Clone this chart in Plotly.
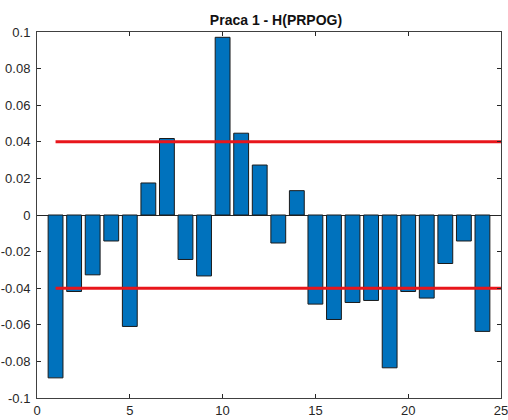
import plotly.graph_objects as go

x_vals = list(range(1, 25))
y_vals = [-0.089, -0.0418, -0.0327, -0.0142, -0.0609, 0.0175, 0.0418, -0.0243, -0.0333,
          0.0971, 0.0447, 0.0273, -0.0153, 0.0133, -0.0487, -0.0571, -0.0478, -0.0467,
          -0.0835, -0.0418, -0.0454, -0.0265, -0.0142, -0.0636]
limit_x = [1, 25]
upper_limit = [0.04, 0.04]
lower_limit = [-0.04, -0.04]
y_ticks = [-0.1, -0.08, -0.06, -0.04, -0.02, 0, 0.02, 0.04, 0.06, 0.08, 0.1]
y_tick_text = ["-0.1", "-0.08", "-0.06", "-0.04", "-0.02", "0", "0.02", "0.04", "0.06", "0.08", "0.1"]
x_ticks = [0, 5, 10, 15, 20, 25]
title = "Praca 1 - H(PRPOG)"

W, H = 508, 420
fig = go.Figure()
fig.add_trace(go.Bar(x=x_vals, y=y_vals, width=0.8,
                     marker=dict(color="#0072BD", line=dict(color="#1a1a1a", width=1))))
fig.add_trace(go.Scatter(x=limit_x, y=upper_limit, mode="lines",
                         line=dict(color="#e8161b", width=3)))
fig.add_trace(go.Scatter(x=limit_x, y=lower_limit, mode="lines",
                         line=dict(color="#e8161b", width=3)))

fig.update_layout(
    width=W, height=H,
    margin=dict(l=37, r=7, t=32, b=22),
    paper_bgcolor="white", plot_bgcolor="white",
    showlegend=False,
    title=dict(text="<b>" + title + "</b>", x=276 / W, xanchor="center",
               y=1 - 20 / H, yanchor="middle",
               font=dict(family="Liberation Sans, Arial", size=14, color="#111")),
    font=dict(family="Liberation Sans, Arial", size=13, color="#262626"),
)
fig.update_xaxes(range=[0, 25], tickvals=x_ticks, ticks="inside", ticklen=4,
                 tickcolor="#262626", showline=True, linecolor="#404040", linewidth=1,
                 mirror="ticks", showgrid=False, zeroline=False, automargin=False,
                 ticklabeloverflow="allow", fixedrange=True)
fig.update_yaxes(range=[-0.1, 0.1], tickvals=y_ticks, ticktext=y_tick_text,
                 ticks="inside", ticklen=4, tickcolor="#262626", showline=True,
                 linecolor="#404040", linewidth=1, mirror="ticks", showgrid=False,
                 zeroline=True, zerolinecolor="#262626", zerolinewidth=1,
                 ticklabelstandoff=3, automargin=False, ticklabeloverflow="allow",
                 fixedrange=True)

fig.write_html("out.html", config={"displayModeBar": False},
               post_script="document.body.style.margin='0';document.body.style.overflow='hidden';")
